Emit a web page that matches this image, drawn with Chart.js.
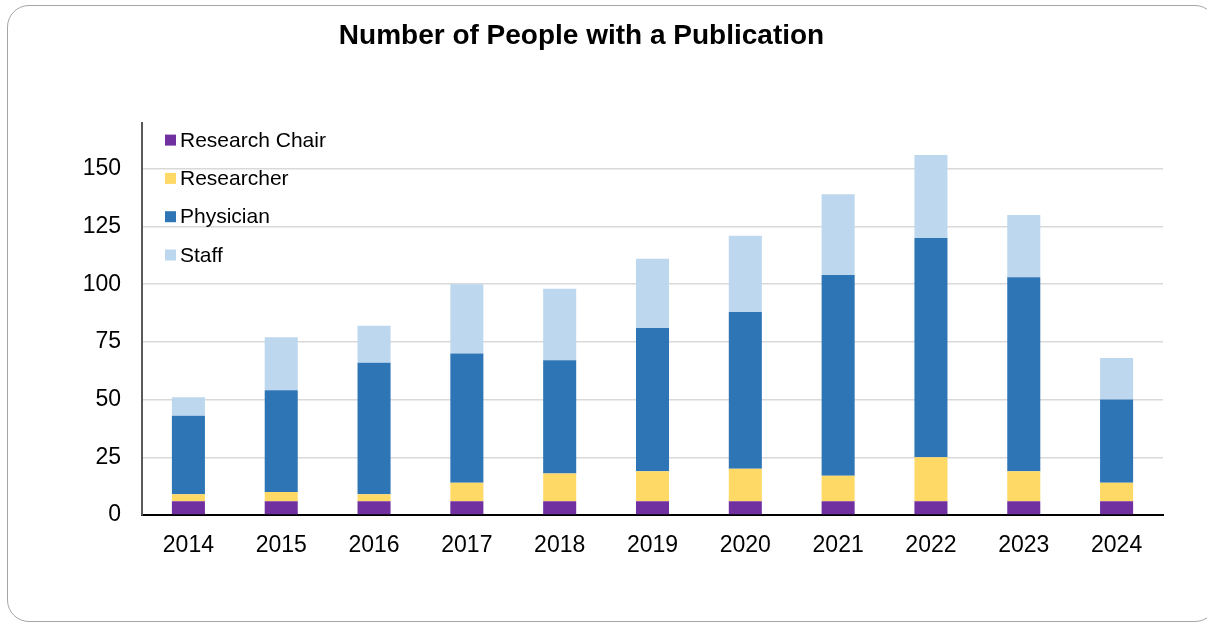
<!DOCTYPE html>
<html>
<head>
<meta charset="utf-8">
<script src="https://cdn.jsdelivr.net/npm/chart.js@4.4.1/dist/chart.umd.min.js"></script>
<style>
    html, body { margin: 0; padding: 0; background: #fff; overflow: hidden; }
    #frame {
        position: absolute; left: 7px; top: 5px; width: 1210px; height: 617px;
        border: 1.5px solid #a6a6a6; border-radius: 22px; box-sizing: border-box;
    }
    #wrap { position: absolute; left: 0; top: 0; width: 1207px; height: 623px; }
</style>
</head>
<body>
<div id="frame"></div>
<div id="wrap"><canvas id="pub-chart"></canvas></div>
<script>
const years = ['2014', '2015', '2016', '2017', '2018', '2019', '2020', '2021', '2022', '2023', '2024'];
const researchChair = [6, 6, 6, 6, 6, 6, 6, 6, 6, 6, 6];
const researcher = [3, 4, 3, 8, 12, 13, 14, 11, 19, 13, 8];
const physician = [34, 44, 57, 56, 49, 62, 68, 87, 95, 84, 36];
const staff = [8, 23, 16, 30, 31, 30, 33, 35, 36, 27, 18];
const yTicks = [0, 25, 50, 75, 100, 125, 150];

const FONT = "'Liberation Sans', Arial, sans-serif";

// legend drawn inside the plot, top-left, stacked vertically
const insideLegend = {
    id: 'insideLegend',
    afterDraw(chart) {
        const ctx = chart.ctx;
        const area = chart.chartArea;
        ctx.save();
        ctx.font = '21px ' + FONT;
        ctx.textBaseline = 'middle';
        ctx.textAlign = 'left';
        chart.data.datasets.forEach((ds, i) => {
            const cy = area.top + 17.5 + i * 38.3;
            ctx.fillStyle = ds.backgroundColor;
            ctx.fillRect(area.left + 23, cy - 5.5, 11, 11);
            ctx.fillStyle = '#000';
            ctx.fillText(ds.label, area.left + 38, cy + 1);
        });
        ctx.restore();
    }
};

const ctx = document.getElementById('pub-chart').getContext('2d');

new Chart(ctx, {
    type: 'bar',
    data: {
        labels: years,
        datasets: [
            { label: 'Research Chair', data: researchChair, backgroundColor: '#7030A0' },
            { label: 'Researcher', data: researcher, backgroundColor: '#FFD966' },
            { label: 'Physician', data: physician, backgroundColor: '#2E75B6' },
            { label: 'Staff', data: staff, backgroundColor: '#BDD7EE' }
        ]
    },
    options: {
        responsive: true,
        maintainAspectRatio: false,
        animation: false,
        datasets: {
            bar: { categoryPercentage: 1, barPercentage: 0.356, borderWidth: 0 }
        },
        layout: { padding: { left: 0, right: 44, top: 0, bottom: 0 } },
        plugins: {
            legend: { display: false },
            tooltip: { enabled: false },
            title: {
                display: true,
                text: 'Number of People with a Publication',
                color: '#000',
                font: { family: FONT, size: 28, weight: 'bold' },
                padding: { top: 19, bottom: 70 }
            }
        },
        scales: {
            x: {
                stacked: true,
                grid: { display: false, drawTicks: false },
                border: { color: '#000', width: 2 },
                ticks: { color: '#000', font: { family: FONT, size: 23 }, padding: 17 },
                afterFit(scale) { scale.height = 108; }
            },
            y: {
                stacked: true,
                min: 0,
                max: 170,
                grid: { color: '#d9d9d9', lineWidth: 1.5, drawTicks: false },
                border: { color: '#595959', width: 2 },
                ticks: { color: '#000', font: { family: FONT, size: 23 }, padding: 21 },
                afterBuildTicks(scale) { scale.ticks = yTicks.map(v => ({ value: v })); },
                afterFit(scale) { scale.width = 142; }
            }
        }
    },
    plugins: [insideLegend]
});
</script>
</body>
</html>
